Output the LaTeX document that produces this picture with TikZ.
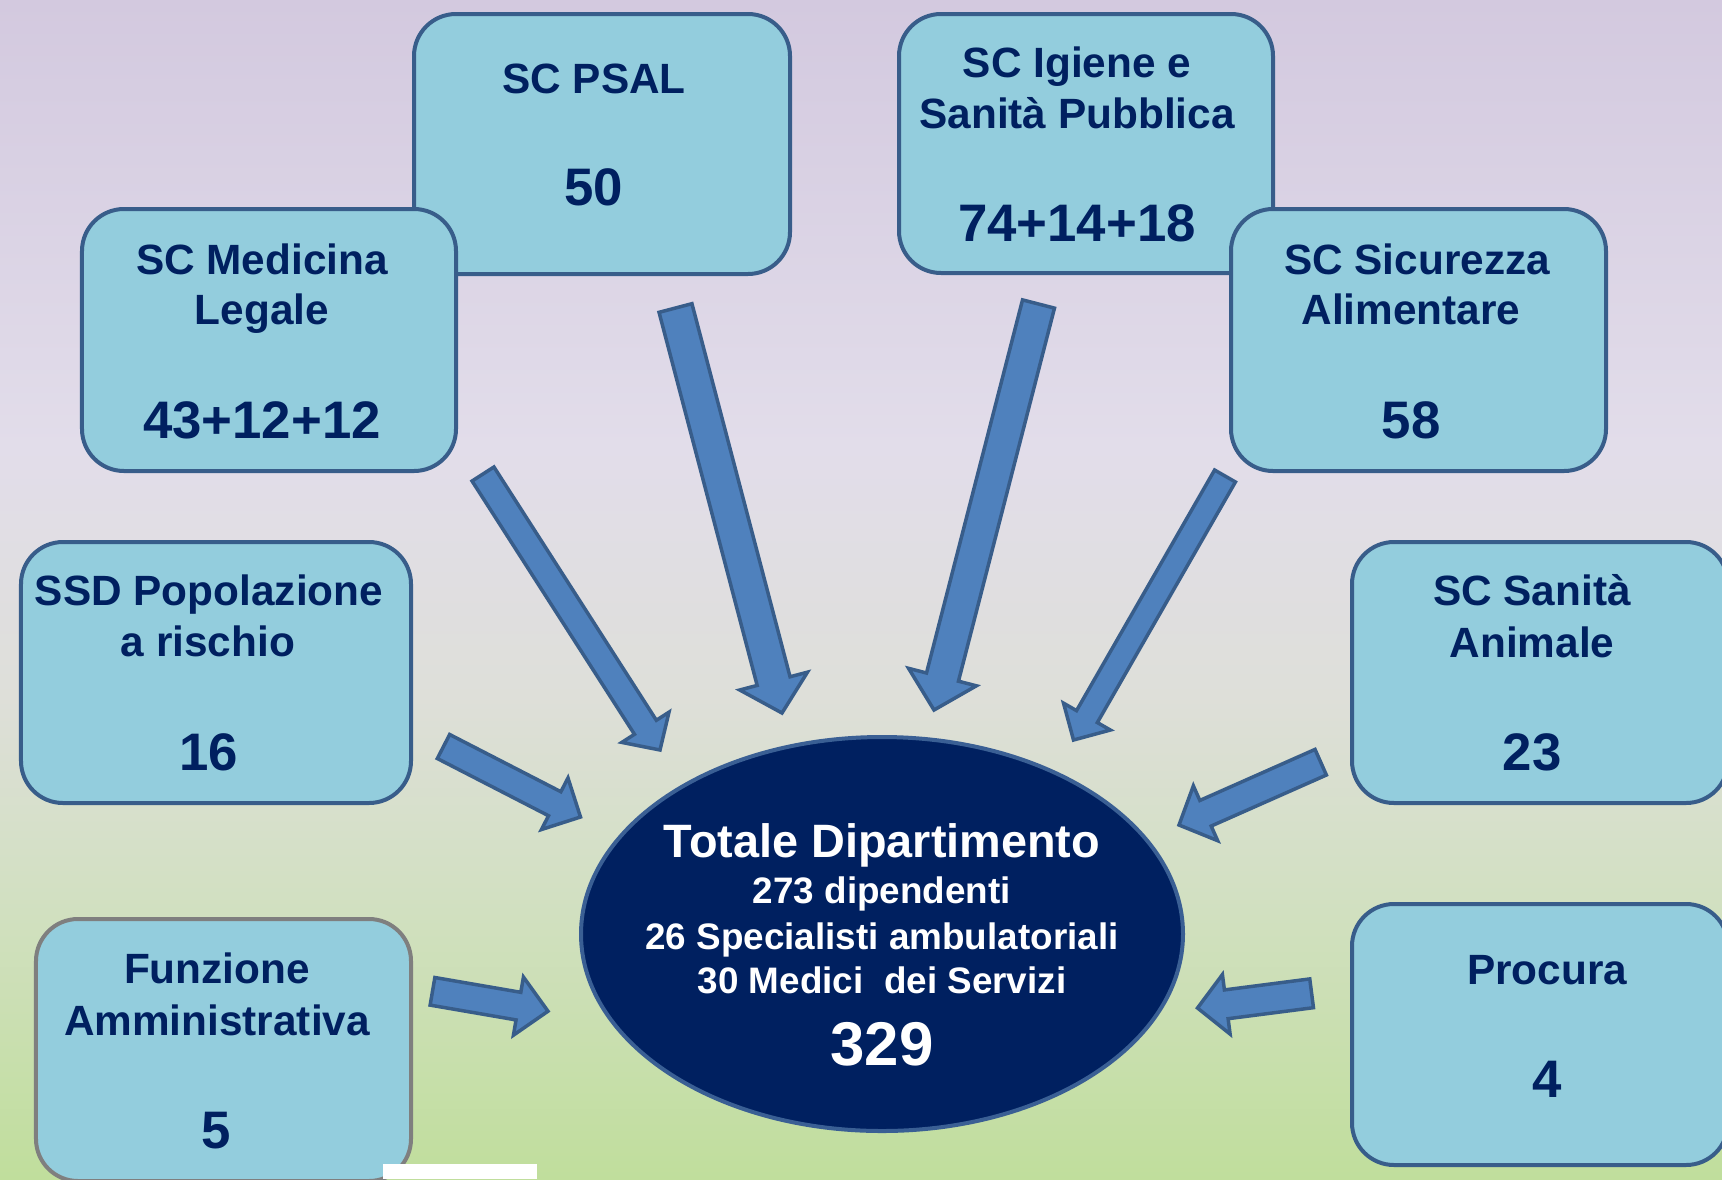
\documentclass[tikz,border=0pt]{standalone}
\usepackage{fontspec}
\setmainfont{Liberation Sans}
\usetikzlibrary{calc,shapes.geometric}
\definecolor{bgtop}{HTML}{D3C9DF}
\definecolor{bgmidA}{HTML}{E2DDEA}
\definecolor{bgmidB}{HTML}{DEDFD9}
\definecolor{bgmidC}{HTML}{D2E0C2}
\definecolor{bgbot}{HTML}{C0DE9C}
\definecolor{boxfill}{HTML}{93CDDD}
\definecolor{boxborder}{HTML}{385D8A}
\definecolor{funborder}{HTML}{7F7F7F}
\definecolor{txtblue}{HTML}{002060}
\definecolor{arrowfill}{HTML}{4F81BD}
\definecolor{arrowborder}{HTML}{385D8A}
\definecolor{ellfill}{HTML}{002060}
\definecolor{ellborder}{HTML}{3A5F94}
\pgfdeclareverticalshading{bgshade}{100bp}{color(0bp)=(bgbot); color(25bp)=(bgbot); color(37bp)=(bgmidC); color(45.5bp)=(bgmidB); color(56bp)=(bgmidA); color(75bp)=(bgtop); color(100bp)=(bgtop)}
% block arrow from (#1-s) to (#1-e): shaft half width, head half width, head length
\newcommand{\blockarrow}[4]{%
  \coordinate (#1-h) at ($(#1-e)!#4!(#1-s)$);
  \draw[arrowbox] ($(#1-s)!#2!90:(#1-e)$) -- ($(#1-h)!#2!90:(#1-e)$) -- ($(#1-h)!#3!90:(#1-e)$) -- (#1-e) -- ($(#1-h)!#3!-90:(#1-e)$) -- ($(#1-h)!#2!-90:(#1-e)$) -- ($(#1-s)!#2!-90:(#1-e)$) -- cycle;
}
\begin{document}
\begin{tikzpicture}[x=1bp,y=-1bp,
  box/.style={draw=boxborder, fill=boxfill, line width=4bp, rounded corners=42bp, inner sep=0pt, rectangle},
  funbox/.style={box, draw=funborder},
  ttl/.style={anchor=base, text=txtblue, inner sep=0pt, font=\bfseries\fontsize{42.5}{50}\selectfont},
  num/.style={anchor=base, text=txtblue, inner sep=0pt, font=\bfseries\fontsize{53}{60}\selectfont},
  etitle/.style={anchor=base, text=white, inner sep=0pt, font=\bfseries\fontsize{47}{54}\selectfont},
  eline/.style={anchor=base, text=white, inner sep=0pt, font=\bfseries\fontsize{37}{44}\selectfont},
  etotal/.style={anchor=base, text=white, inner sep=0pt, font=\bfseries\fontsize{62}{70}\selectfont},
  arrowbox/.style={draw=arrowborder, fill=arrowfill, line width=3.5bp, line join=miter}]
\useasboundingbox (0,0) rectangle (1722,1179);
\shade[shading=bgshade] (0,0) rectangle (1722,1179);

% boxes
\node[box, minimum width=376bp, minimum height=260bp] (psal) at (602,144) {};
\node[box, minimum width=374bp, minimum height=259bp] (igiene) at (1086,143.5) {};
\node[box, minimum width=374bp, minimum height=262bp] (medicina) at (269,340) {};
\node[box, minimum width=375bp, minimum height=262bp] (sicurezza) at (1418.5,340) {};
\node[box, minimum width=390bp, minimum height=261bp] (ssd) at (216,672.5) {};
\node[box, minimum width=376bp, minimum height=261bp] (sanita) at (1540,672.5) {};
\node[funbox, minimum width=375bp, minimum height=262bp] (funzione) at (223.5,1050) {};
\node[box, minimum width=376bp, minimum height=261bp] (procura) at (1540,1034.5) {};

% white patch at the bottom
\fill[white] (383,1164) rectangle (537,1179);

% central ellipse
\node[ellipse, draw=ellborder, fill=ellfill, line width=4bp, minimum width=602bp, minimum height=394bp, inner sep=0pt] (tot) at (882,934) {};

% arrows
\coordinate (a1-s) at (483,474);   \coordinate (a1-e) at (660,750);
\coordinate (a2-s) at (675.5,308); \coordinate (a2-e) at (782,713);
\coordinate (a3-s) at (1038.5,304);\coordinate (a3-e) at (934,710);
\coordinate (a4-s) at (1225,476);  \coordinate (a4-e) at (1073.5,740);
\coordinate (a5-s) at (443.5,746.5);\coordinate (a5-e) at (580.5,817);
\coordinate (a6-s) at (432.5,991.3);\coordinate (a6-e) at (548,1011.2);
\coordinate (a7-s) at (1320.7,762.2);\coordinate (a7-e) at (1179,825);
\coordinate (a8-s) at (1311.6,993.3);\coordinate (a8-e) at (1197.5,1008);
\blockarrow{a1}{13bp}{28bp}{27bp}
\blockarrow{a2}{17bp}{35bp}{33bp}
\blockarrow{a3}{16.5bp}{35bp}{34bp}
\blockarrow{a4}{12bp}{27bp}{27bp}
\blockarrow{a5}{13.5bp}{29bp}{29bp}
\blockarrow{a6}{14bp}{29.5bp}{30bp}
\blockarrow{a7}{14bp}{30bp}{29bp}
\blockarrow{a8}{14.5bp}{30bp}{29bp}

% box texts
\node[ttl] (t-psal) at (594,93) {SC PSAL};
\node[num] (n-psal) at (594,205) {50};
\node[ttl] (t-igi1) at (1077,77) {SC Igiene e};
\node[ttl] (t-igi2) at (1077,128) {Sanità Pubblica};
\node[num] (n-igi) at (1077,241) {74+14+18};
\node[ttl] (t-med1) at (262,274) {SC Medicina};
\node[ttl] (t-med2) at (262,324) {Legale};
\node[num] (n-med) at (262,438) {43+12+12};
\node[ttl] (t-sic1) at (1417,274) {SC Sicurezza};
\node[ttl] (t-sic2) at (1411,324) {Alimentare};
\node[num] (n-sic) at (1411,438) {58};
\node[ttl] (t-ssd1) at (209,605) {SSD Popolazione};
\node[ttl] (t-ssd2) at (208,656) {a rischio};
\node[num] (n-ssd) at (209,770) {16};
\node[ttl] (t-san1) at (1532,605) {SC Sanità};
\node[ttl] (t-san2) at (1532,657) {Animale};
\node[num] (n-san) at (1532,770) {23};
\node[ttl] (t-fun1) at (217,983) {Funzione};
\node[ttl] (t-fun2) at (217,1035) {Amministrativa};
\node[num] (n-fun) at (216,1148) {5};
\node[ttl] (t-pro) at (1547,984) {Procura};
\node[num] (n-pro) at (1547,1097) {4};

% ellipse texts
\node[etitle] (e1) at (882,857) {Totale Dipartimento};
\node[eline] (e2) at (882,903) {273 dipendenti};
\node[eline] (e3) at (882,949) {26 Specialisti ambulatoriali};
\node[eline] (e4) at (882,993) {30 Medici~ dei Servizi};
\node[etotal] (e5) at (882,1065) {329};
\end{tikzpicture}
\end{document}
